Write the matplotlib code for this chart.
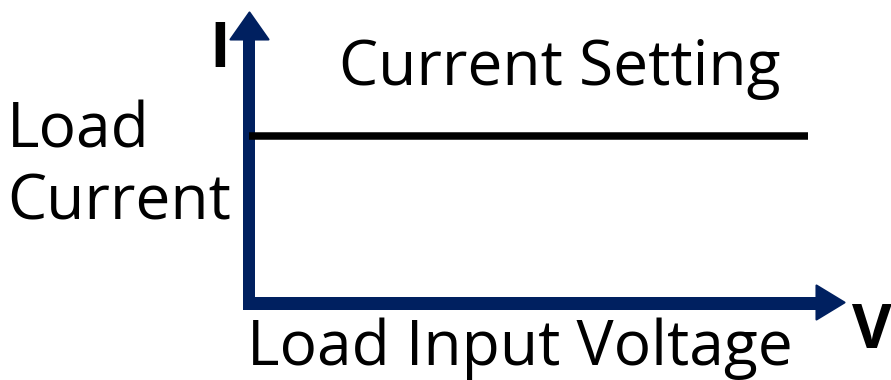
import matplotlib
matplotlib.use("Agg")
import matplotlib.pyplot as plt
from matplotlib.patches import Polygon, Rectangle

# Data (arbitrary units on a 0-10 scale)
voltage = [0.0, 9.38]          # load input voltage range of the CC line
current = [5.76, 5.76]         # constant current setting
x_label = "Load Input Voltage"
y_label = "Load\nCurrent"
line_label = "Current Setting"

navy = "#002060"
W, H = 891, 380
fig = plt.figure(figsize=(W / 100, H / 100), dpi=100)

# pixel overlay for decorations
ov = fig.add_axes([0, 0, 1, 1])
ov.set_xlim(0, W)
ov.set_ylim(H, 0)
ov.axis("off")

# data axes: origin at (249, 303.5) px
ox, oy = 249, 303.5
ax = fig.add_axes([ox / W, 1 - oy / H, (845 - ox) / W, (oy - 12) / H])
ax.set_xlim(0, 10)
ax.set_ylim(0, 10)
ax.axis("off")
ax.patch.set_alpha(0)
ax.plot(voltage, current, color="black", lw=5.4, solid_capstyle="butt")

# axes arrows
ov.add_patch(Rectangle((243, 39), 12, 271, color=navy, lw=0))
ov.add_patch(Polygon([(230.5, 39.5), (268.5, 39.5), (249.5, 12.5)], closed=True,
                     facecolor=navy, edgecolor=navy, lw=1.5, joinstyle="round"))
ov.add_patch(Rectangle((243, 297), 575, 13, color=navy, lw=0))
ov.add_patch(Polygon([(816.5, 285.5), (816.5, 319.5), (844.5, 302.5)], closed=True,
                     facecolor=navy, edgecolor=navy, lw=1.5, joinstyle="round"))

font = "Open Sans"
fs = 44.8
ov.text(339, 85, line_label, fontsize=fs, family=font, va="baseline", ha="left")
ov.text(247, 365, x_label, fontsize=fs, family=font, va="baseline", ha="left")
ov.text(7, 148, "Load", fontsize=fs, family=font, va="baseline", ha="left")
ov.text(7, 220, "Current", fontsize=fs, family=font, va="baseline", ha="left")
ov.text(209, 67, "I", fontsize=45, family=font, weight="bold", va="baseline", ha="left")
ov.text(852, 348, "V", fontsize=44, family=font, weight="bold", va="baseline", ha="left")

fig.savefig("out.png", dpi=100)
